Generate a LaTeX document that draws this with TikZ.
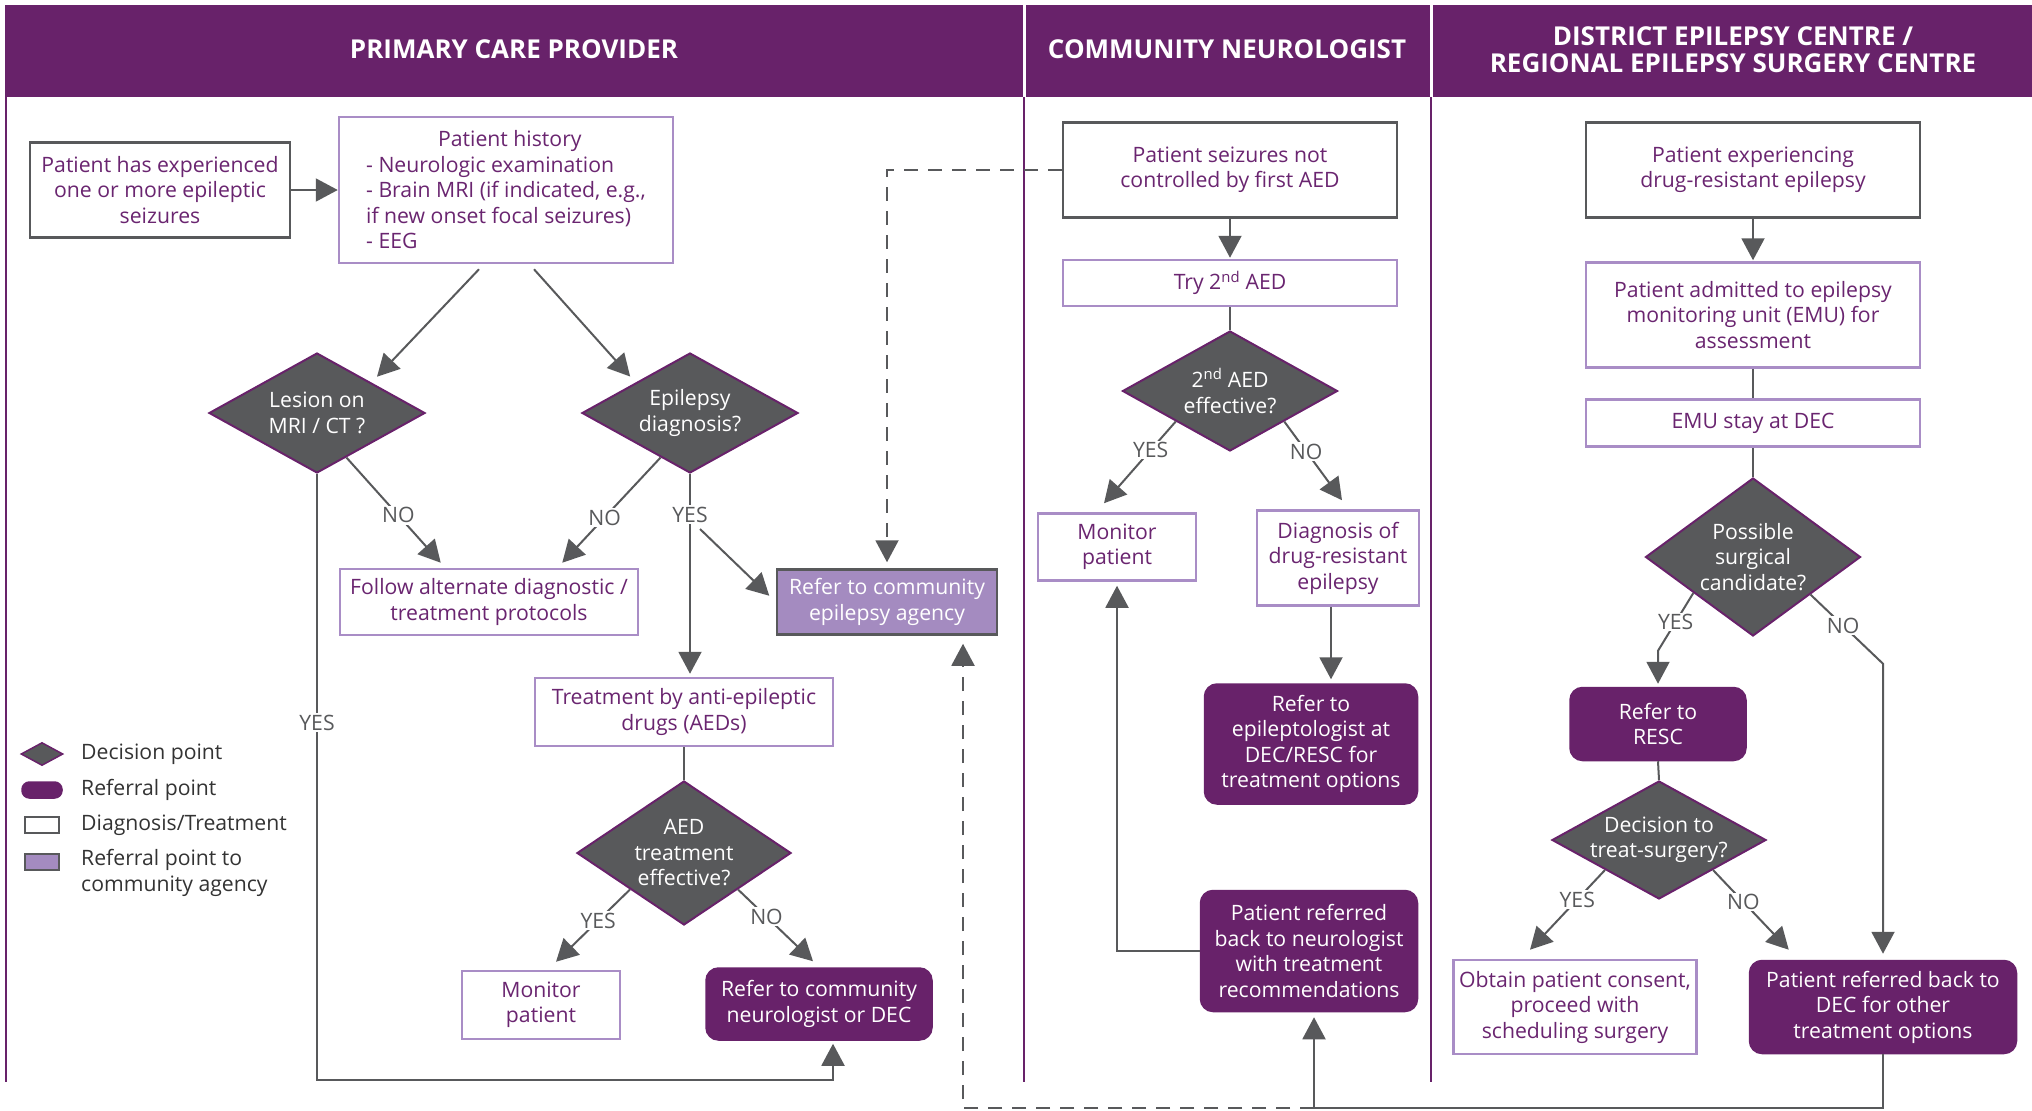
\documentclass[tikz,border=0pt]{standalone}
\usepackage{fontspec}
\setmainfont{Open Sans}
\usetikzlibrary{arrows.meta,shapes.geometric,calc}
\definecolor{mypurple}{HTML}{68226A}
\definecolor{mygray}{HTML}{58595B}
\definecolor{mylilac}{HTML}{A98DC6}
\definecolor{mylilacfill}{HTML}{A48BC0}
\definecolor{mytext}{HTML}{6A2570}

\begin{document}
\begin{tikzpicture}[x=1pt,y=-1pt,
	every node/.style={font=\fontsize{21.2}{25.5}\selectfont},
	hdr/.style={text=white, align=center, font=\bfseries\fontsize{26}{27}\selectfont},
	box/.style={draw=mylilac, line width=2.5pt, fill=white, text=mytext, align=center, inner sep=0pt},
	darkbox/.style={box, draw=mygray},
	agbox/.style={box, draw=mygray, fill=mylilacfill, text=white},
	refbox/.style={box, draw=mypurple, fill=mypurple, text=white, rounded corners=12pt},
	decision/.style={diamond, draw=mypurple, line width=2pt, fill=mygray, text=white, align=center, inner sep=-10pt, aspect=1.6},
	lbl/.style={fill=white, text=mygray, inner sep=1.5pt},
	link/.style={draw=mygray, line width=2pt},
	arr/.style={link, -{Triangle[length=22pt,width=23pt]}},
	dasharr/.style={arr, dash pattern=on 14pt off 10pt}]
		\useasboundingbox (0,0) rectangle (2032,1111);
		% lanes
		\fill[mypurple] (5,5) rectangle (2032,97);
		\foreach \x in {1024,1431} {\draw[white, line width=3pt] (\x,5) -- (\x,97);}
		\foreach \x in {6,1024,1431} {\draw[mypurple, line width=2.5pt] (\x,97) -- (\x,1082);}
		\node[hdr] (hprim) at (514,49) {PRIMARY CARE PROVIDER};
		\node[hdr] (hneuro) at (1227,49) {COMMUNITY NEUROLOGIST};
		\node[hdr] (hdec) at (1733,50) {DISTRICT EPILEPSY CENTRE /\\REGIONAL EPILEPSY SURGERY CENTRE};

		% primary care
		\node[darkbox, minimum width=260pt, minimum height=95pt] (seiz) at (160,190) {Patient has experienced\\one or more epileptic\\seizures};
		\node[box, align=left, minimum width=334pt, minimum height=146pt] (hist) at (506,190) {\hspace*{72pt}Patient history\\- Neurologic examination\\- Brain MRI (if indicated, e.g.,\\if new onset focal seizures)\\- EEG};
		\node[decision, minimum width=216pt, minimum height=120pt] (lesion) at (317,413) {Lesion on\\MRI / CT ?};
		\node[decision, minimum width=216pt, minimum height=120pt] (epi) at (690,413) {Epilepsy\\diagnosis?};
		\node[box, minimum width=298pt, minimum height=66pt] (follow) at (489,602) {Follow alternate diagnostic /\\treatment protocols};
		\node[agbox, minimum width=220pt, minimum height=65pt] (agency) at (887,602) {Refer to community\\epilepsy agency};
		\node[box, minimum width=298pt, minimum height=68pt] (treat) at (684,712) {Treatment by anti-epileptic\\drugs (AEDs)};
		\node[decision, minimum width=214pt, minimum height=144pt] (aed) at (684,853) {AED\\treatment\\effective?};
		\node[box, minimum width=158pt, minimum height=68pt] (mon1) at (541,1005) {Monitor\\patient};
		\node[refbox, minimum width=225pt, minimum height=71pt] (refneu) at (819,1004) {Refer to community\\neurologist or DEC};

		% community neurologist
		\node[darkbox, minimum width=334pt, minimum height=95pt] (notctl) at (1230,170) {Patient seizures not\\controlled by first AED};
		\node[box, minimum width=334pt, minimum height=46pt] (try) at (1230,283) {Try 2\textsuperscript{nd} AED};
		\node[decision, minimum width=215pt, minimum height=120pt] (aed2) at (1230,391) {2\textsuperscript{nd} AED\\effective?};
		\node[box, minimum width=158pt, minimum height=67pt] (mon2) at (1117,547) {Monitor\\patient};
		\node[box, minimum width=162pt, minimum height=95pt] (drdiag) at (1338,558) {Diagnosis of\\drug-resistant\\epilepsy};
		\node[refbox, minimum width=212pt, minimum height=119pt] (epil) at (1311,744) {Refer to\\epileptologist at\\DEC/RESC for\\treatment options};
		\node[refbox, minimum width=216pt, minimum height=120pt] (backneu) at (1309,951) {Patient referred\\back to neurologist\\with treatment\\recommendations};

		% DEC / RESC
		\node[darkbox, minimum width=334pt, minimum height=95pt] (dre) at (1753,170) {Patient experiencing\\drug-resistant epilepsy};
		\node[box, minimum width=334pt, minimum height=105pt] (emu) at (1753,315) {Patient admitted to epilepsy\\monitoring unit (EMU) for\\assessment};
		\node[box, minimum width=334pt, minimum height=47pt] (emustay) at (1753,423) {EMU stay at DEC};
		\node[decision, minimum width=215pt, minimum height=158pt] (cand) at (1753,557) {Possible\\surgical\\candidate?};
		\node[refbox, minimum width=175pt, minimum height=72pt] (resc) at (1658,724) {Refer to\\RESC};
		\node[decision, minimum width=214pt, minimum height=118pt] (surg) at (1659,840) {Decision to\\treat-surgery?};
		\node[box, minimum width=243pt, minimum height=94pt] (consent) at (1575,1007) {Obtain patient consent,\\proceed with\\scheduling surgery};
		\node[refbox, minimum width=266pt, minimum height=92pt] (backdec) at (1883,1007) {Patient referred back to\\DEC for other\\treatment options};

		% legend
		\node[decision, line width=1.5pt, minimum width=42pt, minimum height=23pt] (legdia) at (42,754) {};
		\node[refbox, rounded corners=7pt, minimum width=39pt, minimum height=15pt] (legref) at (42,790) {};
		\node[darkbox, line width=2pt, minimum width=34pt, minimum height=16pt] (legbox) at (42,825) {};
		\node[agbox, line width=2pt, minimum width=34pt, minimum height=16pt] (legag) at (42,862) {};
		\foreach \y/\name in {754/{Decision point}, 790/{Referral point}, 825/{Diagnosis/Treatment}, 873/{Referral point to\\community agency}}
		{
			\node[anchor=west, align=left, text=black!80, inner sep=0pt] at (81,\y) {\name};
		};

		% connectors
		\draw[arr] (seiz.east) -- (hist.west);
		\draw[arr, shorten >=8pt] ([xshift=-27pt,yshift=-5pt]hist.south) -- (lesion.north east);
		\draw[arr, shorten >=8pt] ([xshift=28pt,yshift=-5pt]hist.south) -- (epi.north west);
		\draw[arr] ($(lesion.south)!0.27!(lesion.east)$) -- node[lbl, pos=0.55]{NO} ([xshift=102pt,yshift=5pt]follow.north west);
		\draw[arr] ($(epi.south)!0.27!(epi.west)$) -- node[lbl, pos=0.57]{NO} ([xshift=-77pt,yshift=5pt]follow.north east);
		\draw[arr, shorten >=3pt] (epi.south) -- node[lbl, pos=0.2]{YES} (epi.south |- treat.north);
		\draw[arr, shorten >=9pt] ([xshift=10pt,yshift=-55pt]epi.south) -- (agency.west);
		\draw[dasharr, shorten >=6pt] (notctl.west) -| (agency.north);
		\draw[link] (treat.south) -- (aed.north);
		\draw[arr] (aed.south west) -- node[lbl, pos=0.43]{YES} ([xshift=15pt,yshift=8pt]mon1.north);
		\draw[arr] (aed.south east) -- node[lbl, pos=0.38]{NO} ([xshift=-6pt,yshift=6pt]refneu.north);
		\coordinate (lyes) at (833,1080);
		\draw[arr, shorten >=3pt] (lesion.south) -- node[lbl, pos=0.41]{YES} (lesion.south |- lyes) -- (lyes) -- (lyes |- refneu.south);

		\draw[arr, shorten >=1pt] (notctl.south) -- (try.north);
		\draw[link] (try.south) -- (aed2.north);
		\draw[arr] (aed2.south west) -- node[lbl, pos=0.35]{YES} ([xshift=-13pt,yshift=9pt]mon2.north);
		\draw[arr] (aed2.south east) -- node[lbl, pos=0.38]{NO} ([xshift=4pt,yshift=9pt]drdiag.north);
		\draw[arr, shorten >=4pt] ([xshift=-7pt]drdiag.south) -- ([xshift=-7pt]drdiag.south |- epil.north);
		\draw[arr, shorten >=4pt] (backneu.west) -| (mon2.south);

		\draw[arr, shorten >=1pt] (dre.south) -- (emu.north);
		\draw[link] (emu.south) -- (emustay.north);
		\draw[link] (emustay.south) -- (cand.north);
		\draw[arr, shorten >=3pt] ($(cand.south)!0.55!(cand.west)$) -- node[lbl, pos=0.5]{YES} ([yshift=36pt]resc.north) -- (resc.north);
		\draw[arr, shorten >=6pt] ($(cand.south)!0.53!(cand.east)$) -- node[lbl, pos=0.45]{NO} ([yshift=296pt]backdec.north) -- (backdec.north);
		\draw[link] (resc.south) -- (surg.north);
		\draw[arr] (surg.south west) -- node[lbl, pos=0.37]{YES} ([xshift=-45pt,yshift=9pt]consent.north);
		\draw[arr] (surg.south east) -- node[lbl, pos=0.4]{NO} ([xshift=40pt,yshift=10pt]backdec.north west);

		% bottom returns
		\coordinate (bot) at (1314,1108);
		\draw[arr, shorten >=5pt] (backdec.south) |- (bot) -- (bot |- backneu.south);
		\draw[dasharr, shorten >=8pt] (bot) -| ([xshift=76pt]agency.south);
	\end{tikzpicture}
\end{document}
